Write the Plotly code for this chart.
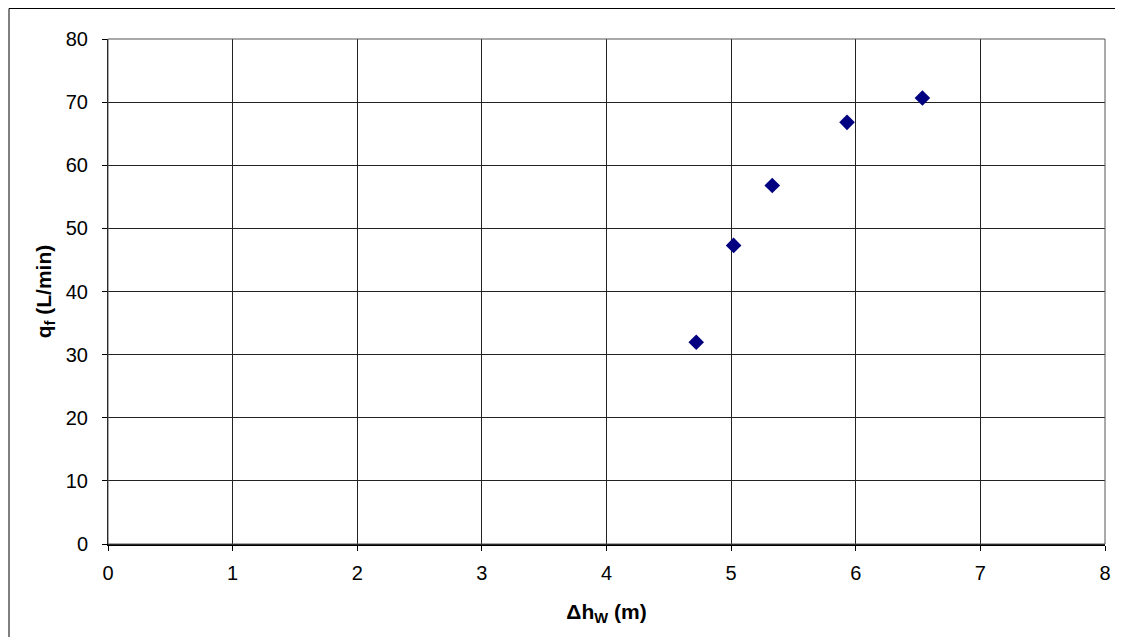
import plotly.graph_objects as go

dh_w = [4.72, 5.02, 5.33, 5.93, 6.535]
q_f = [31.95, 47.3, 56.8, 66.8, 70.65]

x_ticks = [0, 1, 2, 3, 4, 5, 6, 7, 8]
y_ticks = [0, 10, 20, 30, 40, 50, 60, 70, 80]

# page has an 8px body margin: figure coords = page coords - 8
W, H = 1115, 629
L, R, T, B = 100, 18, 31, 93
pw, ph = W - L - R, H - T - B

def px_to_paper(px, py):
    return (px - L) / pw, (H - B - py) / ph

fig = go.Figure()
fig.add_trace(go.Scatter(
    x=dh_w, y=q_f, mode="markers",
    marker=dict(symbol="diamond", size=12, color="#000080",
                line=dict(width=0)),
    showlegend=False, cliponaxis=False,
))

font = dict(family="Liberation Sans, Arial, sans-serif", size=20, color="black")

# outer chart border
x0, y0 = px_to_paper(1, 0.5)
x1, y1 = px_to_paper(1140, 660)
shapes = [
    dict(type="rect", xref="paper", yref="paper", x0=x0, y0=y1, x1=x1, y1=y0,
         line=dict(color="black", width=1), layer="below"),
    dict(type="rect", xref="paper", yref="paper", x0=0, y0=0, x1=1, y1=1,
         line=dict(color="#555555", width=1), layer="above"),
]

fig.update_layout(
    width=W, height=H,
    margin=dict(l=L, r=R, t=T, b=B, autoexpand=False),
    paper_bgcolor="white", plot_bgcolor="white",
    font=font,
    shapes=shapes,
    xaxis=dict(
        range=[0, 8], tickvals=x_ticks, ticktext=[str(v) for v in x_ticks],
        showgrid=True, gridcolor="#222222", gridwidth=1,
        showline=True, linecolor="black", linewidth=2,
        ticks="outside", ticklen=5, tickcolor="black", tickwidth=1,
        ticklabelstandoff=5,
        zeroline=False, fixedrange=True,
        title=dict(text="<b>Δh<sub>W</sub> (m)</b>", font=dict(size=21), standoff=21),
        automargin=False,
    ),
    yaxis=dict(
        range=[0, 80], tickvals=y_ticks, ticktext=[str(v) for v in y_ticks],
        showgrid=True, gridcolor="#222222", gridwidth=1,
        showline=True, linecolor="black", linewidth=1,
        ticks="outside", ticklen=5, tickcolor="black", tickwidth=1,
        ticklabelstandoff=10,
        zeroline=False, fixedrange=True,
        title=dict(text="<b>q<sub>f</sub> (L/min)</b>", font=dict(size=21), standoff=8),
        automargin=False,
    ),
)

fig.write_html("out.html")
